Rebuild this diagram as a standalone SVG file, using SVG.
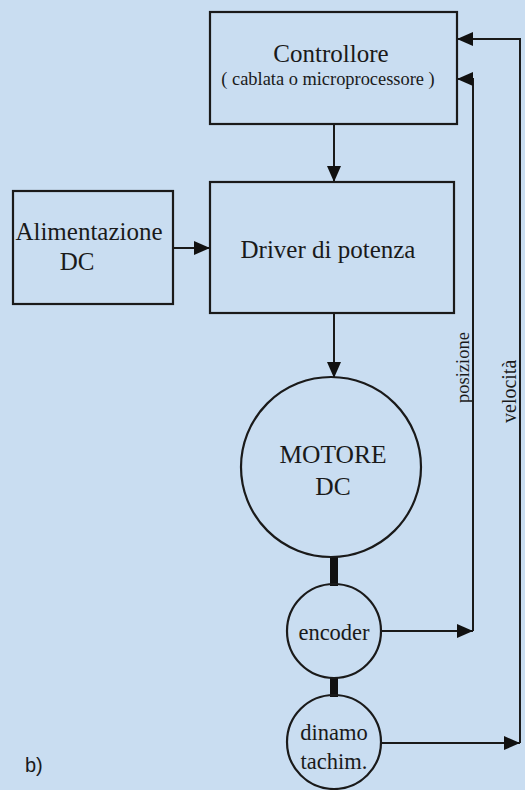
<svg xmlns="http://www.w3.org/2000/svg" width="525" height="790" viewBox="0 0 525 790">
<style>
.box{fill:none;stroke:#1a1a1a;stroke-width:2.2}
.ln{fill:none;stroke:#1a1a1a;stroke-width:2}
.shaft{stroke:#111;stroke-width:8}
.t{font-family:"Liberation Serif","Times New Roman",serif;fill:#1a1a1a;text-anchor:middle}
.r{font-family:"Liberation Serif","Times New Roman",serif;fill:#1a1a1a;text-anchor:start}
</style>
<defs>
<marker id="ah" viewBox="0 0 16 14" refX="16" refY="7" markerWidth="16" markerHeight="14" markerUnits="userSpaceOnUse" orient="auto">
<path d="M0,0 L16,7 L0,14 Z" fill="#111"/>
</marker>
</defs>
<rect width="525" height="790" fill="#c9ddf1"/>
<g id="connectors">
<line class="ln" x1="334" y1="124" x2="334" y2="182" marker-end="url(#ah)"/>
<line class="ln" x1="173" y1="248" x2="210" y2="248" marker-end="url(#ah)"/>
<line class="ln" x1="334" y1="313" x2="334" y2="378" marker-end="url(#ah)"/>
<line class="shaft" x1="334" y1="556" x2="334" y2="586"/>
<line class="shaft" x1="334" y1="677" x2="334" y2="697"/>
<line class="ln" x1="381" y1="631" x2="473" y2="631" marker-end="url(#ah)"/>
<polyline class="ln" points="473,631 473,79 457,79" marker-end="url(#ah)"/>
<line class="ln" x1="381" y1="743" x2="520" y2="743" marker-end="url(#ah)"/>
<polyline class="ln" points="520,743 520,39 457,39" marker-end="url(#ah)"/>
<text class="r" font-size="18.5" transform="translate(469,403) rotate(-90)">posizione</text>
<text class="r" font-size="20" transform="translate(516,423) rotate(-90)">velocità</text>
</g>
<g id="controllore">
<rect class="box" x="210" y="12" width="247" height="112"/>
<text class="t" x="331" y="62" font-size="25">Controllore</text>
<text class="t" x="328" y="85" font-size="18.4">( cablata o microprocessore )</text>
</g>
<g id="alimentazione">
<rect class="box" x="13" y="191" width="160" height="113"/>
<text class="t" x="89" y="240" font-size="25">Alimentazione</text>
<text class="t" x="77" y="270" font-size="25">DC</text>
</g>
<g id="driver">
<rect class="box" x="210" y="182" width="244" height="131"/>
<text class="t" x="328" y="258" font-size="25">Driver di potenza</text>
</g>
<g id="motore">
<circle class="box" cx="331" cy="467" r="90"/>
<text class="t" x="333" y="463" font-size="25.5">MOTORE</text>
<text class="t" x="333" y="495" font-size="25.5">DC</text>
</g>
<g id="encoder">
<circle class="box" cx="334" cy="631" r="47"/>
<text class="t" x="334" y="640" font-size="22.5">encoder</text>
</g>
<g id="dinamo">
<circle class="box" cx="334" cy="742" r="47"/>
<text class="t" x="334" y="740" font-size="22.5">dinamo</text>
<text class="t" x="334" y="769" font-size="22.5">tachim.</text>
</g>
<text x="25" y="772" font-family="Liberation Sans, Arial, sans-serif" font-size="20" fill="#1a1a1a">b)</text>
</svg>
